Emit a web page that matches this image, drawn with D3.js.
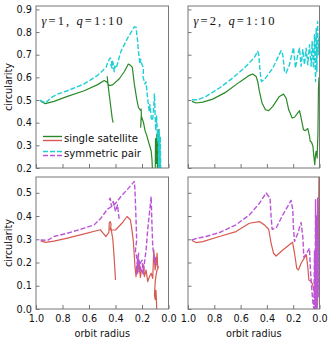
<!DOCTYPE html>
<html>
<head>
<meta charset="utf-8">
<script src="https://cdn.jsdelivr.net/npm/d3@7"></script>
<style>
  html, body { margin: 0; padding: 0; background: #fff; }
  svg { display: block; }
</style>
</head>
<body>
<svg id="chart" width="330" height="340"></svg>
<script>
// ---------------- data ----------------
const xTicks = [1.0, 0.8, 0.6, 0.4, 0.2, 0.0];
const yTicksTop = [0.2, 0.3, 0.4, 0.5, 0.6, 0.7, 0.8, 0.9];
const yTicksBottom = [0.0, 0.1, 0.2, 0.3, 0.4, 0.5];
const panelTitles = [["γ", "1", "q", "1 : 10"], ["γ", "2", "q", "1 : 10"]];
const seriesNames = ["single satellite", "symmetric pair"];

// gamma = 1, single satellite (top-left), null = break between pieces
const g1Single = [[0.965,0.495],[0.93,0.484],[0.864,0.494],[0.763,0.516],[0.636,0.541],[0.535,0.568],[0.485,0.586],[0.465,0.579],[0.445,0.563],[0.42,0.568],[0.371,0.594],[0.333,0.626],[0.303,0.659],[0.285,0.652],[0.273,0.644],[0.258,0.571],[0.24,0.505],[0.227,0.467],[0.212,0.455],[0.207,0.46],[0.205,0.44],[0.21,0.38],[0.205,0.43],[0.189,0.401],[0.177,0.365],[0.164,0.343],[0.146,0.306],[0.131,0.276],[0.125,0.24],[0.12,0.18],
  null,[0.1,0.18],[0.098,0.33],[0.092,0.22],[0.088,0.35],[0.083,0.18],[0.078,0.37],[0.072,0.19],[0.068,0.33],[0.063,0.18],
  null,[0.463,0.605],[0.455,0.56],[0.44,0.49],[0.425,0.42],[0.418,0.40]];
// gamma = 1, symmetric pair (top-left)
const g1Pair = [[0.97,0.499],[0.927,0.487],[0.889,0.509],[0.838,0.526],[0.763,0.541],[0.636,0.571],[0.535,0.609],[0.472,0.644],[0.455,0.671],[0.44,0.686],[0.43,0.675],[0.425,0.64],[0.435,0.655],[0.42,0.67],[0.41,0.625],[0.405,0.65],[0.395,0.64],[0.359,0.715],[0.308,0.774],[0.258,0.823],[0.245,0.821],[0.235,0.77],[0.227,0.718],[0.22,0.68],[0.215,0.659],[0.21,0.68],[0.2,0.655],[0.189,0.644],[0.192,0.6],[0.177,0.571],[0.17,0.58],[0.157,0.505],[0.146,0.453],[0.14,0.48],[0.13,0.42],[0.121,0.409],[0.112,0.46],[0.106,0.527],[0.1,0.42],[0.096,0.365],[0.09,0.43],[0.081,0.32],[0.078,0.36],[0.074,0.2],[0.07,0.37],[0.066,0.18],[0.062,0.34],[0.058,0.18]];
// gamma = 2, single satellite (top-right)
const g2Single = [[0.97,0.494],[0.939,0.487],[0.888,0.491],[0.812,0.504],[0.711,0.535],[0.609,0.579],[0.533,0.609],[0.508,0.615],[0.482,0.604],[0.47,0.582],[0.457,0.538],[0.437,0.487],[0.411,0.457],[0.386,0.453],[0.355,0.472],[0.305,0.516],[0.274,0.526],[0.254,0.509],[0.234,0.457],[0.208,0.421],[0.19,0.424],[0.165,0.443],[0.152,0.453],[0.14,0.421],[0.122,0.369],[0.107,0.365],[0.089,0.374],[0.076,0.34],[0.071,0.318],[0.061,0.315],[0.05,0.296],[0.043,0.251],[0.036,0.215],[0.03,0.26],[0.025,0.274],[0.018,0.244],[0.012,0.35],[0.008,0.55],[0.004,0.6]];
// gamma = 2, symmetric pair (top-right)
const g2Pair = [[0.97,0.501],[0.926,0.501],[0.863,0.516],[0.761,0.553],[0.66,0.597],[0.558,0.649],[0.495,0.688],[0.47,0.715],[0.462,0.7],[0.452,0.626],[0.442,0.582],[0.419,0.59],[0.355,0.641],[0.292,0.718],[0.279,0.7],[0.266,0.626],[0.254,0.619],[0.228,0.656],[0.198,0.732],[0.183,0.641],[0.165,0.7],[0.152,0.729],[0.14,0.649],[0.127,0.722],[0.114,0.656],[0.102,0.729],[0.089,0.656],[0.076,0.744],[0.063,0.649],[0.056,0.759],[0.046,0.641],[0.038,0.788],[0.03,0.582],[0.025,0.818],[0.02,0.626],[0.015,0.847],[0.01,0.7],[0.005,0.774]];
// gamma = 1, single satellite (bottom-left)
const g1SingleB = [[0.965,0.293],[0.927,0.287],[0.864,0.292],[0.763,0.305],[0.636,0.323],[0.515,0.341],[0.497,0.329],[0.472,0.312],[0.45,0.33],[0.447,0.37],[0.44,0.376],[0.433,0.365],[0.44,0.34],[0.40,0.34],[0.35,0.37],[0.313,0.398],[0.288,0.384],[0.278,0.349],[0.265,0.29],[0.253,0.182],[0.245,0.139],[0.24,0.18],[0.232,0.154],[0.225,0.2],[0.212,0.136],[0.205,0.17],[0.194,0.154],[0.188,0.19],[0.182,0.139],[0.169,0.168],[0.157,0.118],[0.144,0.139],[0.131,0.154],[0.119,0.132],[0.111,0.254],[0.101,0.168],[0.093,0.197],[0.086,0.24],[0.081,0.175],[0.076,0.182],[0.09,0.16],[0.1,0.12],[0.106,0.06],[0.1,0.04],[0.095,0.08],[0.092,0.05],[0.089,0.0],
  null,[0.435,0.35],[0.42,0.30],[0.41,0.22],[0.40,0.125]];
// gamma = 1, symmetric pair (bottom-left)
const g1PairB = [[0.965,0.297],[0.914,0.295],[0.864,0.312],[0.763,0.326],[0.636,0.348],[0.561,0.362],[0.51,0.391],[0.46,0.43],[0.409,0.448],[0.359,0.484],[0.308,0.516],[0.258,0.549],[0.253,0.513],[0.245,0.384],[0.24,0.297],[0.25,0.25],[0.232,0.2],[0.245,0.17],[0.225,0.24],[0.24,0.15],[0.215,0.17],[0.23,0.23],[0.205,0.16],[0.22,0.19],[0.2,0.21],[0.19,0.15],[0.182,0.197],[0.169,0.254],[0.157,0.341],[0.144,0.412],[0.131,0.484],[0.126,0.384],[0.119,0.269],[0.106,0.211],[0.093,0.19],[0.101,0.225],
  null,[0.448,0.47],[0.44,0.477],[0.43,0.441],[0.417,0.463],[0.40,0.42],[0.385,0.448],[0.372,0.385]];
// gamma = 2, single satellite (bottom-right)
const g2SingleB = [[0.97,0.295],[0.939,0.286],[0.888,0.29],[0.761,0.312],[0.635,0.333],[0.533,0.369],[0.457,0.376],[0.419,0.362],[0.386,0.343],[0.368,0.283],[0.35,0.24],[0.33,0.228],[0.279,0.254],[0.205,0.287],[0.19,0.24],[0.173,0.175],[0.16,0.168],[0.14,0.197],[0.1,0.233],[0.089,0.182],[0.081,0.125],[0.063,0.118],[0.051,0.103],[0.038,0.068],[0.025,0.0],[0.015,0.02],[0.008,0.3],[0.004,0.6]];
// gamma = 2, symmetric pair (bottom-right)
const g2PairB = [[0.97,0.297],[0.926,0.305],[0.863,0.312],[0.761,0.329],[0.635,0.362],[0.533,0.405],[0.457,0.455],[0.406,0.499],[0.376,0.477],[0.368,0.398],[0.36,0.343],[0.33,0.348],[0.279,0.405],[0.216,0.467],[0.203,0.427],[0.198,0.348],[0.19,0.29],[0.165,0.326],[0.14,0.372],[0.127,0.312],[0.119,0.223],[0.096,0.243],[0.076,0.261],[0.069,0.168],[0.061,0.103],[0.051,0.032],[0.043,0.0],[0.038,0.25],[0.034,0.0],[0.03,0.47],[0.026,0.0],[0.022,0.4],[0.018,0.0],[0.014,0.48],[0.01,0.05],[0.006,0.3]];

// ---------------- drawing ----------------
const C = { green: "#2a8a2a", cyan: "#1fcfd6", red: "#d65a50", purple: "#ba55d8", frame: "#777" };
const FONT = "'DejaVu Sans', sans-serif";
const svg = d3.select("#chart");

const cols = [{x0: 36, x1: 168.5}, {x0: 188, x1: 319.5}];
const rows = [
  {y0: 6, y1: 168, dom: [0.2, 0.915], ticks: yTicksTop},
  {y0: 177, y1: 309, dom: [0.0, 0.568], ticks: yTicksBottom}
];
const panels = [
  {r: 0, c: 0, single: g1Single, pair: g1Pair, colS: C.green, colP: C.cyan, title: panelTitles[0]},
  {r: 0, c: 1, single: g2Single, pair: g2Pair, colS: C.green, colP: C.cyan, title: panelTitles[1]},
  {r: 1, c: 0, single: g1SingleB, pair: g1PairB, colS: C.red, colP: C.purple},
  {r: 1, c: 1, single: g2SingleB, pair: g2PairB, colS: C.red, colP: C.purple}
];

panels.forEach((p, i) => {
  const col = cols[p.c], row = rows[p.r];
  const x = d3.scaleLinear().domain([1, 0]).range([col.x0, col.x1]);
  const y = d3.scaleLinear().domain(row.dom).range([row.y1, row.y0]);
  const clipId = "clip" + i;
  svg.append("clipPath").attr("id", clipId).append("rect")
    .attr("x", col.x0).attr("y", row.y0).attr("width", col.x1 - col.x0).attr("height", row.y1 - row.y0);

  const line = d3.line().defined(d => d !== null).x(d => x(d[0])).y(d => y(d[1]));
  const g = svg.append("g").attr("clip-path", `url(#${clipId})`);
  g.append("path").attr("d", line(p.single)).attr("fill", "none")
    .attr("stroke", p.colS).attr("stroke-width", 1.2).attr("stroke-linejoin", "round");
  g.append("path").attr("d", line(p.pair)).attr("fill", "none")
    .attr("stroke", p.colP).attr("stroke-width", 1.4).attr("stroke-dasharray", "5,2").attr("stroke-linejoin", "round");

  // axes
  const ax = svg.append("g").attr("transform", `translate(0,${row.y1})`)
    .call(d3.axisBottom(x).tickValues(xTicks).tickSize(-4).tickPadding(6)
      .tickFormat(p.r === 1 ? d3.format(".1f") : ""));
  const ay = svg.append("g").attr("transform", `translate(${col.x0},0)`)
    .call(d3.axisLeft(y).tickValues(row.ticks).tickSize(-3.5).tickPadding(4)
      .tickFormat(p.c === 0 ? d3.format(".1f") : ""));
  [ax, ay].forEach(a => {
    a.select(".domain").remove();
    a.selectAll(".tick line").attr("stroke", C.frame);
    a.selectAll(".tick text").attr("fill", "#111").style("font-family", FONT).style("font-size", "9.7px");
  });

  // frame
  svg.append("rect").attr("x", col.x0).attr("y", row.y0)
    .attr("width", col.x1 - col.x0).attr("height", row.y1 - row.y0)
    .attr("fill", "none").attr("stroke", C.frame).attr("stroke-width", 1);

  // title
  if (p.title) {
    const t = svg.append("text").attr("x", col.x0 + 5.5).attr("y", 25)
      .style("font-family", "'Liberation Serif', 'DejaVu Serif', serif").style("font-size", "12.5px")
      .attr("fill", "#111").attr("textLength", 81).attr("lengthAdjust", "spacing");
    t.append("tspan").style("font-style", "italic").text(p.title[0]);
    t.append("tspan").text("=" + p.title[1] + ",  ");
    t.append("tspan").style("font-style", "italic").text(p.title[2]);
    t.append("tspan").text("=" + p.title[3].replace(/ /g, ""));
  }

  // axis labels
  if (p.c === 0) {
    svg.append("text").attr("transform", `translate(11.5,${(row.y0 + row.y1) / 2}) rotate(-90)`)
      .attr("text-anchor", "middle").style("font-family", FONT).style("font-size", "9.7px")
      .attr("fill", "#111").text("circularity");
  }
  if (p.r === 1) {
    svg.append("text").attr("x", (col.x0 + col.x1) / 2).attr("y", 337)
      .attr("text-anchor", "middle").style("font-family", FONT).style("font-size", "9.7px")
      .attr("fill", "#111").text("orbit radius");
  }
});

// legend (top-left panel)
const legend = svg.append("g");
const legItems = [
  {name: seriesNames[0], cols: [C.green, C.red], dash: null, y: 136.5},
  {name: seriesNames[1], cols: [C.cyan, C.purple], dash: "5,2", y: 151.5}
];
legItems.forEach(it => {
  it.cols.forEach((c, k) => {
    legend.append("line").attr("x1", 43).attr("x2", 62)
      .attr("y1", it.y + k * 4).attr("y2", it.y + k * 4)
      .attr("stroke", c).attr("stroke-width", 1.4)
      .attr("stroke-dasharray", it.dash);
  });
  legend.append("text").attr("x", 64).attr("y", it.y + 2).attr("dy", "0.35em")
    .style("font-family", FONT).style("font-size", "10.2px").attr("fill", "#111").text(it.name);
});
</script>
</body>
</html>
